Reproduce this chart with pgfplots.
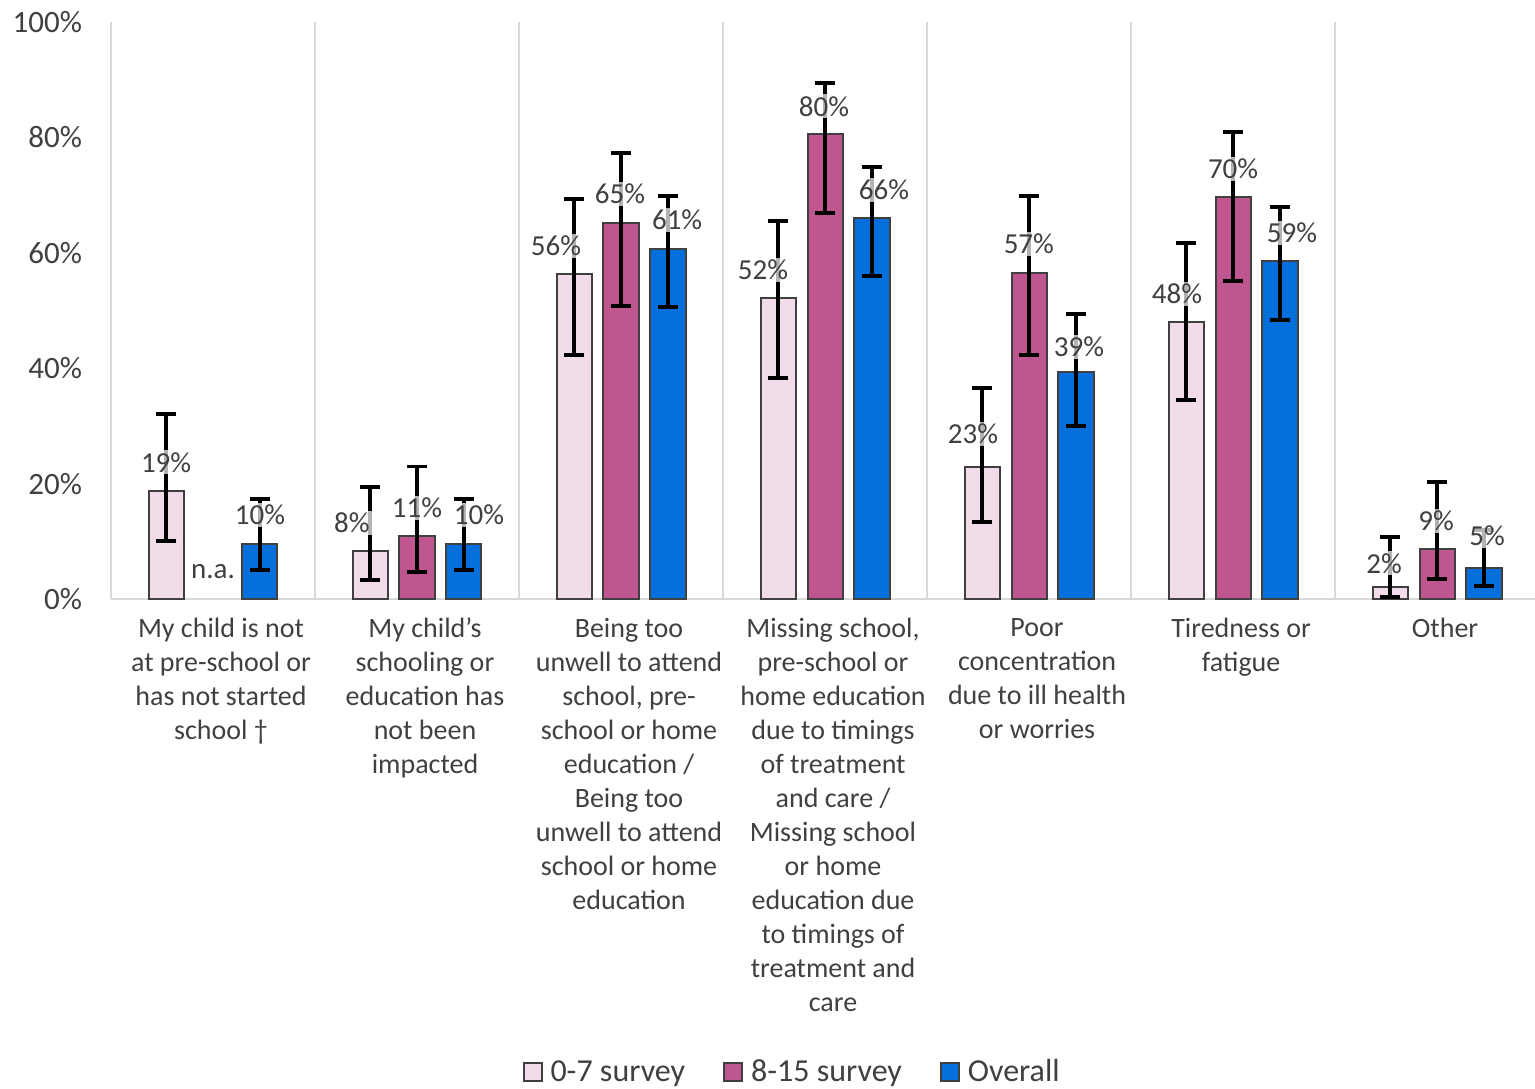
\documentclass[border=0pt]{standalone}
\usepackage{pgfplots}
\pgfplotsset{compat=1.18}
\usepackage{pgfplotstable}
\usepackage{fontspec}
\setmainfont{Carlito}
\definecolor{txt}{HTML}{404040}
\definecolor{cA}{HTML}{F2DCE9}
\definecolor{cB}{HTML}{C0568F}
\definecolor{cC}{HTML}{056FDB}
\definecolor{grd}{HTML}{D9D9D9}

\pgfplotstableread{
x y ep em
-0.23 18.7 13.4 8.6
0.77 8.3 11.1 5.0
1.77 56.3 13.0 14.0
2.77 52.2 13.3 13.9
3.77 22.9 13.7 9.6
4.77 48.0 13.7 13.5
5.77 2.1 8.6 1.8
}\sA
\pgfplotstableread{
x y ep em
1 10.9 12.1 6.2
2 65.2 12.1 14.4
3 80.6 8.8 13.7
4 56.5 13.3 14.2
5 69.7 11.2 14.6
6 8.7 11.6 5.2
}\sB
\pgfplotstableread{
x y ep em
0.23 9.5 7.8 4.5
1.23 9.5 7.8 4.5
2.23 60.7 9.1 10.1
3.23 66.0 8.9 10.0
4.23 39.3 10.1 9.3
5.23 58.6 9.3 10.2
6.23 5.4 6.6 3.1
}\sC
\pgfplotstableread{
x y l
-0.230 23.7 19
0.230 14.6 10
0.681 13.2 8
1.000 15.8 11
1.304 14.6 10
1.681 61.2 56
1.995 70.2 65
2.275 65.7 61
2.696 57.0 52
2.995 85.4 80
3.289 70.9 66
3.725 28.6 23
3.999 61.5 57
4.245 43.7 39
4.725 52.9 48
5.000 74.5 70
5.289 63.4 59
5.740 6.2 2
5.995 13.5 9
6.245 10.9 5
}\sL

\begin{document}
\begin{tikzpicture}
\begin{axis}[
 at={(0,0)}, anchor=south west,
 scale only axis, width=712pt, height=288.5pt,
 xmin=-0.5, xmax=6.48, ymin=0, ymax=100,
 axis x line*=bottom, axis y line*=left,
 axis line style={grd, line width=1pt, -},
 xtick={0,...,6},
 xticklabels={
  {My child is not\\at pre-school or\\has not started\\school \textdagger},
  {My child's\\schooling or\\education has\\not been\\impacted},
  {Being too\\unwell to attend\\school, pre-\\school or home\\education /\\Being too\\unwell to attend\\school or home\\education},
  {Missing school,\\pre-school or\\home education\\due to timings\\of treatment\\and care /\\Missing school\\or home\\education due\\to timings of\\treatment and\\care},
  {Poor\\concentration\\due to ill health\\or worries},
  {Tiredness or\\fatigue},
  {Other}},
 xticklabel style={align=center, font=\fontsize{14}{17}\selectfont, text=txt, anchor=north, yshift=-6pt, xshift=4pt},
 ytick={0,20,40,60,80,100},
 yticklabels={0\%,20\%,40\%,60\%,80\%,100\%},
 yticklabel style={font=\fontsize{15.5}{18}\selectfont, text=txt, xshift=-11pt},
 major tick length=0pt, minor tick length=0pt,
 minor xtick={0.5,1.5,2.5,3.5,4.5,5.5}, xminorgrids,
 minor grid style={grd, line width=1pt},
 legend style={draw=none, at={(0.479,-0.82)}, anchor=center, legend columns=3,
   font=\fontsize{16}{18}\selectfont, text=txt,
   /tikz/every even column/.append style={column sep=17pt}},
 legend image code/.code={\draw[#1, line width=1pt] (0pt,-4.5pt) rectangle (9pt,4.5pt);},
 every node near coord/.append style={anchor=center, font=\fontsize{14.5}{17}\selectfont,
   text=txt, fill=white, fill opacity=0.7, text opacity=1, inner sep=1pt},
]
\addplot[ybar, bar width=0.172, bar shift=0pt, fill=cA, draw=txt, line width=1pt,
  error bars/.cd, y dir=both, y explicit,
  error bar style={black, line width=1.8pt},
  error mark options={black, rotate=90, mark size=5pt, line width=1.8pt}]
  table[x=x, y=y, y error plus=ep, y error minus=em] {\sA};
\addlegendentry{\hspace{2pt}0-7 survey}
\addplot[ybar, bar width=0.172, bar shift=0pt, fill=cB, draw=txt, line width=1pt,
  error bars/.cd, y dir=both, y explicit,
  error bar style={black, line width=1.8pt},
  error mark options={black, rotate=90, mark size=5pt, line width=1.8pt}]
  table[x=x, y=y, y error plus=ep, y error minus=em] {\sB};
\addlegendentry{\hspace{2pt}8-15 survey}
\addplot[ybar, bar width=0.172, bar shift=0pt, fill=cC, draw=txt, line width=1pt,
  error bars/.cd, y dir=both, y explicit,
  error bar style={black, line width=1.8pt},
  error mark options={black, rotate=90, mark size=5pt, line width=1.8pt}]
  table[x=x, y=y, y error plus=ep, y error minus=em] {\sC};
\addlegendentry{\hspace{2pt}Overall}
\addplot[forget plot, only marks, mark=none, point meta=explicit symbolic,
  nodes near coords={\pgfplotspointmeta\%}]
  table[x=x, y=y, meta=l] {\sL};
\addplot[forget plot, only marks, mark=none, nodes near coords={n.a.}]
  coordinates {(0,4.7)};
\end{axis}
\pgfresetboundingbox
\path (-55.5pt,-244.5pt) rectangle (712pt,299.5pt);
\end{tikzpicture}
\end{document}
